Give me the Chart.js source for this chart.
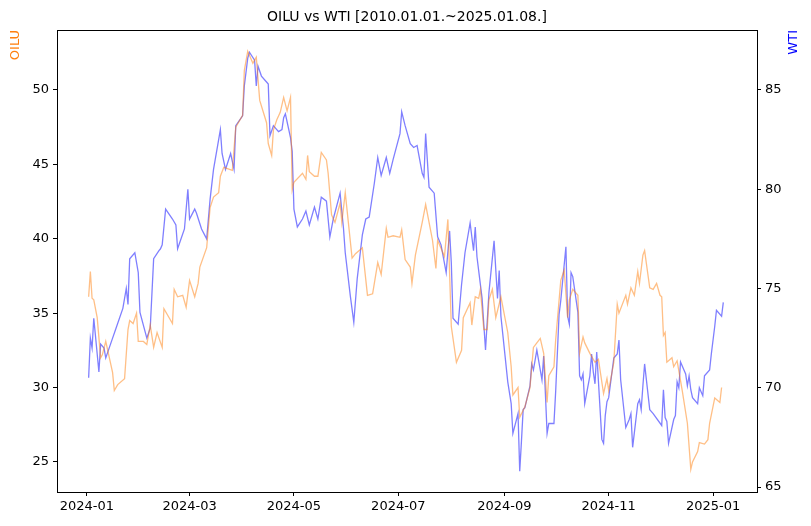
<!DOCTYPE html>
<html>
<head>
<meta charset="utf-8">
<script src="https://cdn.jsdelivr.net/npm/chart.js@4"></script>
<style>
  body { margin: 0; background: #fff; }
  #wrap { width: 811px; height: 526px; }
</style>
</head>
<body>
<div id="wrap"><canvas id="chart"></canvas></div>
<script>
// OILU close (left axis), keyed by days since 2024-01-01
var oiluDays = [1,2,3,4,6,8,9,11,15,16,18,22,24,25,27,29,30,33,35,37,39,41,44,45,50,51,53,56,58,60,63,65,
  66,70,72,74,77,78,80,85,87,91,92,94,97,99,101,105,106,108,109,111,113,115,117,119,120,121,126,128,129,130,133,
  135,137,140,141,143,145,148,149,151,155,157,161,164,167,170,172,175,176,179,183,184,186,189,190,192,196,198,
  200,202,204,205,209,211,213,216,219,220,224,225,227,229,230,232,234,235,237,239,242,246,248,249,252,253,256,259,261,263,265,267,
  269,270,273,274,277,279,281,282,284,287,288,290,291,294,297,299,302,304,305,308,310,311,315,316,318,320,322,323,325,326,329,331,333,335,
  336,337,338,339,342,343,345,348,351,353,354,357,358,361,363,364,367,370,371];
var oiluValues = [36.1,37.8,36.0,35.9,34.7,32.0,32.2,33.1,31.0,29.8,30.2,30.6,33.9,34.5,34.3,35.0,33.1,33.1,32.9,34.2,32.7,33.7,32.7,35.3,34.3,36.6,36.1,36.2,35.4,37.2,36.1,37.0,
  38.1,39.4,42.1,42.8,43.1,44.2,44.8,44.6,47.5,48.3,51.3,52.6,51.8,52.2,49.3,47.8,46.4,45.6,47.3,48.0,48.5,49.5,48.6,49.5,43.3,43.8,44.4,44.0,45.6,44.5,44.2,
  44.2,45.8,45.3,44.4,41.6,41.1,42.4,41.1,43.1,38.7,39.0,39.4,36.2,36.3,38.4,37.6,40.7,40.1,40.2,40.1,40.6,38.6,38.1,37.0,38.9,41.1,42.3,
  41.1,39.9,38.0,39.9,38.8,41.3,34.1,31.7,32.5,34.7,35.7,34.2,36.1,36.0,36.6,33.9,33.9,35.9,36.6,34.7,36.1,33.7,31.4,29.5,30.0,28.0,28.7,30.0,32.7,33.0,33.3,32.3,
  29.0,30.8,31.4,33.2,37.2,37.9,34.7,35.9,36.6,36.2,32.3,33.4,33.0,32.3,31.7,31.9,29.6,30.6,29.8,31.7,35.6,35.0,36.2,35.6,36.7,36.2,37.8,37.0,38.9,39.2,36.7,36.6,37.0,36.2,
  36.1,33.5,33.7,31.7,32.0,31.4,31.8,29.8,27.6,24.5,25.0,25.7,26.3,26.2,26.5,27.6,29.3,29.0,30.0];

// WTI close (right axis)
var wtiDates = ['2024-01-02','2024-01-03','2024-01-04','2024-01-05','2024-01-08','2024-01-09','2024-01-11','2024-01-12','2024-01-16','2024-01-18','2024-01-22','2024-01-24','2024-01-25','2024-01-26','2024-01-29','2024-01-31',
  '2024-02-01','2024-02-05','2024-02-07','2024-02-09','2024-02-12','2024-02-13','2024-02-14','2024-02-16','2024-02-20','2024-02-22','2024-02-23','2024-02-27','2024-02-29',
  '2024-03-01','2024-03-04','2024-03-05','2024-03-08','2024-03-11','2024-03-13','2024-03-15','2024-03-18','2024-03-19','2024-03-20','2024-03-22','2024-03-25','2024-03-27','2024-03-28',
  '2024-04-01','2024-04-02','2024-04-04','2024-04-05','2024-04-08','2024-04-09','2024-04-10','2024-04-12','2024-04-15','2024-04-16','2024-04-17','2024-04-19','2024-04-22','2024-04-24','2024-04-25','2024-04-26','2024-04-29','2024-04-30',
  '2024-05-01','2024-05-03','2024-05-06','2024-05-08','2024-05-10','2024-05-13','2024-05-15','2024-05-17','2024-05-20','2024-05-22','2024-05-24','2024-05-28','2024-05-30','2024-05-31',
  '2024-06-03','2024-06-05','2024-06-07','2024-06-10','2024-06-12','2024-06-14','2024-06-17','2024-06-19','2024-06-21','2024-06-24','2024-06-26','2024-06-28',
  '2024-07-02','2024-07-03','2024-07-05','2024-07-08','2024-07-10','2024-07-12','2024-07-15','2024-07-16','2024-07-17','2024-07-19','2024-07-22','2024-07-24','2024-07-26','2024-07-29','2024-07-31',
  '2024-08-01','2024-08-02','2024-08-05','2024-08-07','2024-08-09','2024-08-12','2024-08-14','2024-08-15','2024-08-16','2024-08-19','2024-08-20','2024-08-21','2024-08-23','2024-08-26','2024-08-28','2024-08-29','2024-08-30',
  '2024-09-03','2024-09-05','2024-09-06','2024-09-09','2024-09-10','2024-09-11','2024-09-12','2024-09-13','2024-09-16','2024-09-17','2024-09-18','2024-09-20','2024-09-23','2024-09-24','2024-09-25','2024-09-26','2024-09-27','2024-09-30',
  '2024-10-01','2024-10-03','2024-10-04','2024-10-07','2024-10-08','2024-10-09','2024-10-10','2024-10-11','2024-10-14','2024-10-15','2024-10-16','2024-10-17','2024-10-18','2024-10-21','2024-10-22','2024-10-23','2024-10-24','2024-10-25','2024-10-28','2024-10-29','2024-10-30','2024-10-31',
  '2024-11-01','2024-11-04','2024-11-06','2024-11-07','2024-11-08','2024-11-11','2024-11-13','2024-11-14','2024-11-15','2024-11-18','2024-11-19','2024-11-20','2024-11-21','2024-11-22','2024-11-25','2024-11-26','2024-11-27',
  '2024-12-02','2024-12-03','2024-12-04','2024-12-05','2024-12-06','2024-12-09','2024-12-10','2024-12-11','2024-12-12','2024-12-13','2024-12-16','2024-12-17','2024-12-18','2024-12-19','2024-12-20','2024-12-23','2024-12-24','2024-12-26','2024-12-27','2024-12-30','2024-12-31',
  '2025-01-02','2025-01-03','2025-01-06','2025-01-07'];
var wtiValues = [70.5,72.5,72.0,73.5,70.8,72.2,72.0,71.5,72.5,73.0,74.0,75.0,74.2,76.5,76.8,75.8,
  73.8,72.5,73.0,76.5,76.9,77.0,77.2,79.0,78.5,78.2,77.0,78.0,80.0,
  78.5,79.0,78.8,78.0,77.5,79.5,81.0,82.5,83.0,81.8,81.0,81.8,81.0,83.2,
  83.7,85.2,86.6,86.9,86.5,85.2,86.2,85.7,85.4,85.3,82.7,83.2,82.9,83.0,83.6,83.8,82.6,81.9,
  79.0,78.1,78.5,78.9,78.2,79.1,78.5,79.6,79.4,77.6,78.5,79.8,78.0,76.8,
  74.6,73.3,75.5,77.7,78.5,78.6,80.3,81.6,80.7,81.6,80.8,81.5,
  82.8,83.9,83.2,82.3,82.1,82.2,80.8,80.6,82.8,80.1,79.8,77.6,77.2,75.8,77.9,
  76.3,73.5,73.2,75.2,76.8,78.3,76.9,78.1,76.6,74.5,73.2,71.9,74.8,77.4,74.5,75.9,73.6,
  70.3,69.2,67.7,68.7,65.8,67.3,68.9,69.0,70.1,71.2,70.9,71.9,70.4,71.6,69.7,67.7,68.2,68.2,
  69.8,73.7,74.4,77.1,73.6,73.2,75.8,75.6,73.8,70.6,70.4,70.7,69.2,70.6,71.7,70.8,70.2,71.8,67.4,67.2,68.6,69.3,
  69.5,71.5,71.7,72.4,70.4,68.0,68.4,68.7,67.0,69.2,69.4,68.9,70.1,71.2,68.9,68.8,68.7,
  68.1,69.9,68.5,68.3,67.2,68.4,68.6,70.3,70.0,71.3,70.7,70.1,70.6,69.9,69.5,69.2,70.0,69.6,70.6,70.9,71.7,
  73.1,73.9,73.6,74.3];

// x tick labels (every two months)
var tickLabels = ['2024-01','2024-03','2024-05','2024-07','2024-09','2024-11','2025-01'];

var T0 = Date.UTC(2024, 0, 1);
function dayOf(s) {
  var p = s.split('-');
  return (Date.UTC(+p[0], +p[1] - 1, +p[2]) - T0) / 86400000;
}
var tickDays = tickLabels.map(function(t) { return dayOf(t + '-01'); });

Chart.defaults.font.family = 'DejaVu Sans';
Chart.defaults.font.size = 13;
Chart.defaults.color = '#000';

// frame, title and axis labels drawn matplotlib-style
var framePlugin = {
  id: 'frame',
  afterDraw: function(chart) {
    var a = chart.chartArea, ctx = chart.ctx;
    ctx.save();
    ctx.strokeStyle = '#000';
    ctx.lineWidth = 1;
    ctx.strokeRect(a.left + 0.5, a.top + 0.5, a.right - a.left, a.bottom - a.top);
    ctx.font = '14px DejaVu Sans';
    ctx.fillStyle = '#000';
    ctx.textAlign = 'center';
    ctx.textBaseline = 'middle';
    ctx.fillText('OILU vs WTI [2010.01.01.~2025.01.08.]', (a.left + a.right) / 2, 17);
    ctx.font = '13px DejaVu Sans';
    ctx.textAlign = 'right';
    ctx.translate(16, 30);
    ctx.rotate(-Math.PI / 2);
    ctx.fillStyle = '#ff7f0e';
    ctx.fillText('OILU', 0, 0);
    ctx.rotate(Math.PI / 2);
    ctx.translate(778, 0);
    ctx.rotate(-Math.PI / 2);
    ctx.fillStyle = '#0000ff';
    ctx.fillText('WTI', 0, 0);
    ctx.restore();
  }
};

var tickGrid = { display: true, drawOnChartArea: false, drawTicks: true, tickLength: 4, color: '#000' };

new Chart(document.getElementById('chart'), {
  type: 'line',
  data: {
    datasets: [
      { label: 'OILU', data: oiluDays.map(function(d, i) { return { x: d, y: oiluValues[i] }; }), yAxisID: 'y',
        borderColor: 'rgba(255,127,14,0.5)', borderWidth: 1.3, pointRadius: 0, tension: 0 },
      { label: 'WTI', data: wtiDates.map(function(d, i) { return { x: dayOf(d), y: wtiValues[i] }; }), yAxisID: 'y2',
        borderColor: 'rgba(0,0,255,0.5)', borderWidth: 1.3, pointRadius: 0, tension: 0 }
    ]
  },
  options: {
    responsive: true,
    maintainAspectRatio: false,
    animation: false,
    layout: { padding: { top: 30, left: 0, right: 0, bottom: 0 } },
    plugins: { legend: { display: false }, tooltip: { enabled: false } },
    scales: {
      x: {
        type: 'linear', min: -17.5, max: 391.7,
        grid: tickGrid,
        border: { display: false },
        afterBuildTicks: function(s) { s.ticks = tickDays.map(function(v) { return { value: v }; }); },
        afterFit: function(s) { s.height = 34; },
        ticks: { autoSkip: false, maxRotation: 0, padding: 3,
          callback: function(v) { return tickLabels[tickDays.indexOf(v)]; } }
      },
      y: {
        position: 'left', min: 22.98, max: 54.03,
        grid: tickGrid,
        border: { display: false },
        afterBuildTicks: function(s) { s.ticks = [25,30,35,40,45,50].map(function(v) { return { value: v }; }); },
        afterFit: function(s) { s.width = 57; },
        ticks: { padding: 4 }
      },
      y2: {
        position: 'right', min: 64.75, max: 88.02,
        grid: tickGrid,
        border: { display: false },
        afterBuildTicks: function(s) { s.ticks = [65,70,75,80,85].map(function(v) { return { value: v }; }); },
        afterFit: function(s) { s.width = 54; },
        ticks: { padding: 4 }
      }
    }
  },
  plugins: [framePlugin]
});
</script>
</body>
</html>
